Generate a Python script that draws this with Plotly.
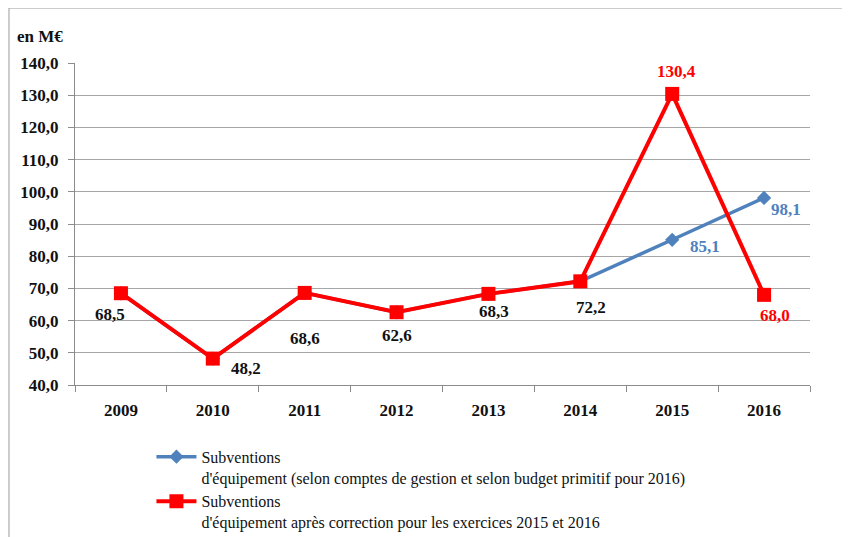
import plotly.graph_objects as go

years = ["2009", "2010", "2011", "2012", "2013", "2014", "2015", "2016"]
blue_vals = [68.5, 48.2, 68.6, 62.6, 68.3, 72.2, 85.1, 98.1]
red_vals = [68.5, 48.2, 68.6, 62.6, 68.3, 72.2, 130.4, 68.0]
blue_name = "Subventions<br>d'équipement (selon comptes de gestion et selon budget primitif pour 2016)"
red_name = "Subventions<br>d'équipement après correction pour les exercices 2015 et 2016"
y_ticks = [40, 50, 60, 70, 80, 90, 100, 110, 120, 130, 140]

BLUE = "#4F81BD"
RED = "#FF0000"
FONT = "Liberation Serif"
TXT = "#111111"

fig = go.Figure()
fig.add_trace(go.Scatter(x=years, y=blue_vals, name=blue_name, mode="lines+markers",
                         line=dict(color=BLUE, width=3.5),
                         marker=dict(symbol="diamond", size=11, color=BLUE)))
fig.add_trace(go.Scatter(x=years, y=red_vals, name=red_name, mode="lines+markers",
                         line=dict(color=RED, width=4),
                         marker=dict(symbol="square", size=14, color=RED)))

# data labels: (series values, index, color, xshift, yshift)
labels = [
    (red_vals, 0, TXT, -11, -21),
    (red_vals, 1, TXT, 33, -10),
    (red_vals, 2, TXT, 0, -46),
    (red_vals, 3, TXT, 0, -23),
    (red_vals, 4, TXT, 6, -18),
    (red_vals, 5, TXT, 11, -26),
    (red_vals, 6, RED, 4, 22),
    (blue_vals, 6, BLUE, 33, -7),
    (blue_vals, 7, BLUE, 22, -12),
    (red_vals, 7, RED, 11, -21),
]
for vals, i, col, xs, ys in labels:
    fig.add_annotation(x=i, y=vals[i], text=f"{vals[i]:.1f}".replace(".", ","),
                       showarrow=False, xshift=xs, yshift=ys,
                       font=dict(family=FONT, size=17, color=col, weight="bold"))

fig.add_annotation(xref="paper", yref="paper", x=-0.082, y=1.081, xanchor="left", yanchor="middle",
                   text="en M€", showarrow=False,
                   font=dict(family=FONT, size=17, color=TXT, weight="bold"))

# outer frame
fig.add_shape(type="rect", xref="paper", yref="paper", x0=-0.0898, x1=1.049, y0=-0.56, y1=1.1708,
              line=dict(color="#9a9a9a", width=1), fillcolor="rgba(0,0,0,0)", layer="below")

fig.update_layout(
    width=850, height=570,
    margin=dict(l=67, r=48, t=55, b=193),
    paper_bgcolor="white", plot_bgcolor="white",
    separators=", ",
    showlegend=True,
    legend=dict(x=0.104, y=-0.17, xanchor="left", yanchor="top", valign="top",
                font=dict(family=FONT, size=16, color=TXT),
                itemwidth=40, tracegroupgap=13, bgcolor="rgba(0,0,0,0)"),
    xaxis=dict(type="category", range=[-0.5, 7.5], showgrid=False, showline=True,
               linecolor="#8c8c8c", linewidth=1,
               ticks="outside", tickson="boundaries", ticklen=6, tickcolor="#8c8c8c",
               ticklabelstandoff=10,
               tickfont=dict(family=FONT, size=17, color=TXT, weight="bold")),
    yaxis=dict(range=[40, 140], tickvals=y_ticks, tickformat=".1f", showgrid=True,
               gridcolor="#a6a6a6", gridwidth=1, showline=True, linecolor="#8c8c8c",
               ticks="outside", ticklen=6, tickcolor="#8c8c8c", zeroline=False,
               ticklabelstandoff=6,
               tickfont=dict(family=FONT, size=17, color=TXT, weight="bold")),
)

fig.write_html("out.html")
